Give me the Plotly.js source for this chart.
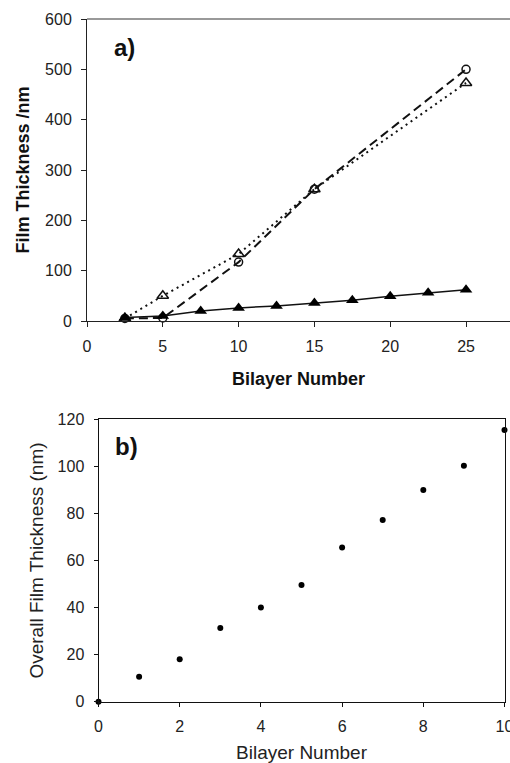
<!DOCTYPE html>
<html><head><meta charset="utf-8">
<script src="https://cdn.plot.ly/plotly-3.0.1.min.js"></script>
<style>html,body{margin:0;padding:0;background:#fff}#chart{width:510px;height:763px}</style>
</head><body><div id="chart"></div>
<script>
// ---- data (a) ----
const bilayerA = [2.5, 5, 7.5, 10, 12.5, 15, 17.5, 20, 22.5, 25];
const thickFilledTri = [7, 10, 20, 26, 30, 36, 41, 49, 56, 62];
const bilayerOpen = [2.5, 5, 10, 15, 25];
const thickOpenCircle = [5, 6, 117, 262, 500];
const thickOpenTri = [5, 50, 133, 262, 473];
const ticksAx = [0, 5, 10, 15, 20, 25];
const ticksAy = [0, 100, 200, 300, 400, 500, 600];
// ---- data (b) ----
const bilayerB = [0, 1, 2, 3, 4, 5, 6, 7, 8, 9, 10];
const thickB = [0, 10.6, 18, 31.3, 40, 49.6, 65.5, 77.2, 90, 100.3, 115.5];
const ticksBx = [0, 2, 4, 6, 8, 10];
const ticksBy = [0, 20, 40, 60, 80, 100, 120];

const W = 510, H = 763;
const px = v => v / W;
const py = v => 1 - v / H;

const FONT = 'Liberation Sans, Arial, sans-serif';

const traces = [
  {x: bilayerOpen, y: thickOpenTri, xaxis: 'x', yaxis: 'y', mode: 'lines+markers', cliponaxis: false,
   line: {color: '#111', width: 2, dash: '2px,4px'},
   marker: {symbol: 'triangle-up-open', size: 10, color: '#111', line: {width: 1.5, color: '#111'}}},
  {x: bilayerOpen, y: thickOpenCircle, xaxis: 'x', yaxis: 'y', mode: 'lines+markers', cliponaxis: false,
   line: {color: '#111', width: 2, dash: '9px,5px'},
   marker: {symbol: 'circle-open', size: 8, color: '#111', line: {width: 1.5, color: '#111'}}},
  {x: bilayerA, y: thickFilledTri, xaxis: 'x', yaxis: 'y', mode: 'lines+markers', cliponaxis: false,
   line: {color: '#111', width: 1.5},
   marker: {symbol: 'triangle-up', size: 11, color: '#000'}},
  {x: bilayerB, y: thickB, xaxis: 'x2', yaxis: 'y2', mode: 'markers', cliponaxis: false,
   marker: {symbol: 'circle', size: 6, color: '#000'}}
];

const layout = {
  width: W, height: H,
  margin: {l: 0, r: 0, t: 0, b: 0},
  paper_bgcolor: '#fff', plot_bgcolor: '#fff',
  showlegend: false,
  font: {family: FONT, color: '#222'},
  xaxis: {
    domain: [px(87), 1], range: [0, 27.9], anchor: 'y',
    tickvals: ticksAx, ticktext: ticksAx.map(String),
    showgrid: false, zeroline: false, showline: true, linecolor: '#222', linewidth: 1,
    ticks: 'outside', ticklen: 5, tickcolor: '#222', ticklabelstandoff: 6,
    tickfont: {size: 16, family: FONT, color: '#222'},
    title: {text: '<b>Bilayer Number</b>', font: {size: 18, family: FONT, color: '#111'}, standoff: 18}
  },
  yaxis: {
    domain: [py(321), py(19)], range: [0, 600], anchor: 'x',
    tickvals: ticksAy, ticktext: ticksAy.map(String),
    showgrid: false, zeroline: false, showline: true, linecolor: '#222', linewidth: 1,
    ticks: 'outside', ticklen: 5, tickcolor: '#222', ticklabelstandoff: 6,
    tickfont: {size: 16, family: FONT, color: '#222'},
    title: {text: '<b>Film Thickness /nm</b>', font: {size: 18, family: FONT, color: '#111'}, standoff: 10}
  },
  xaxis2: {
    domain: [px(98.5), px(504.5)], range: [0, 10], anchor: 'y2',
    tickvals: ticksBx, ticktext: ticksBx.map(String), ticklabeloverflow: 'allow',
    showgrid: false, zeroline: false, showline: true, mirror: true, linecolor: '#111', linewidth: 1,
    ticks: 'outside', ticklen: 4, tickcolor: '#111', ticklabelstandoff: 6,
    tickfont: {size: 16, family: FONT, color: '#222'},
    title: {text: 'Bilayer Number', font: {size: 19, family: FONT, color: '#222'}, standoff: 16}
  },
  yaxis2: {
    domain: [py(701.7), py(419.3)], range: [0, 120], anchor: 'x2',
    tickvals: ticksBy, ticktext: ticksBy.map(String),
    showgrid: false, zeroline: false, showline: true, mirror: true, linecolor: '#111', linewidth: 1,
    ticks: 'outside', ticklen: 4, tickcolor: '#111', ticklabelstandoff: 6,
    tickfont: {size: 16, family: FONT, color: '#222'},
    title: {text: 'Overall Film Thickness (nm)', font: {size: 19, family: FONT, color: '#222'}, standoff: 8}
  },
  shapes: [
    {type: 'line', xref: 'x domain', yref: 'y domain', x0: 0, x1: 1, y0: 1, y1: 1,
     line: {color: '#777', width: 1.5}}
  ],
  annotations: [
    {text: '<b>a)</b>', xref: 'paper', yref: 'paper', x: px(112), y: py(47), xanchor: 'left', yanchor: 'middle',
     showarrow: false, font: {size: 24, family: FONT, color: '#111'}},
    {text: '<b>b)</b>', xref: 'paper', yref: 'paper', x: px(113), y: py(446), xanchor: 'left', yanchor: 'middle',
     showarrow: false, font: {size: 24, family: FONT, color: '#111'}}
  ]
};

Plotly.newPlot('chart', traces, layout, {displayModeBar: false, staticPlot: true});
</script>
</body></html>
